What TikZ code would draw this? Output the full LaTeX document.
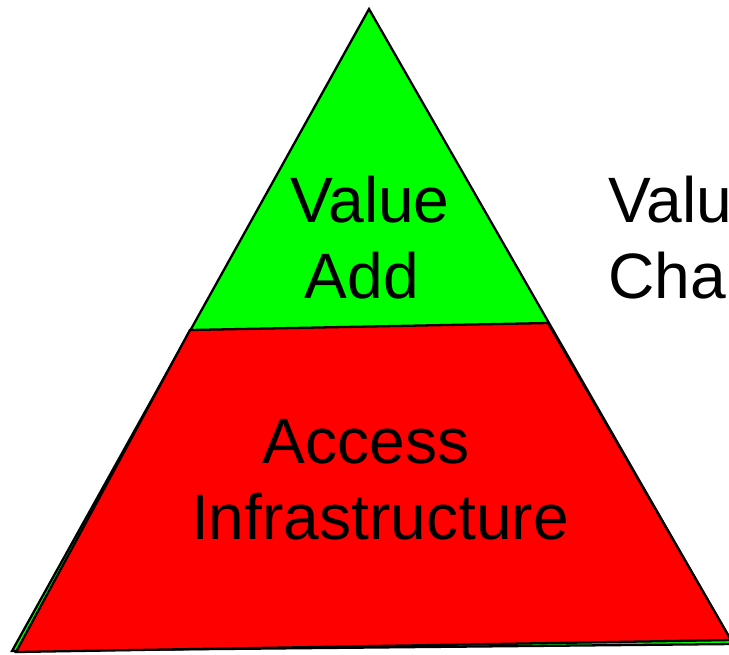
\documentclass[tikz,border=0pt]{standalone}
\usepackage{fontspec}
\setmainfont{Liberation Sans}
\begin{document}
\begin{tikzpicture}[x=0.02cm,y=-0.02cm,
  layershape/.style={draw=black,line width=1.3pt,line join=miter},
  lbl/.style={font=\fontsize{36.5pt}{43.5pt}\selectfont,inner sep=0pt,anchor=base}]
\useasboundingbox (0,0) rectangle (729,654);
\begin{scope}
\clip (0,0) rectangle (729,654);
\draw[layershape,fill={rgb,255:red,0;green,255;blue,0}] (369,9) -- (12,651) -- (733,644) -- cycle;
\draw[layershape,fill={rgb,255:red,255;green,0;blue,0}] (190,330) -- (548,323) -- (731,640) -- (16,652) -- cycle;
\end{scope}
\node[lbl] (v1) at (370,222) {Value};
\node[lbl] (v2) at (362,298) {Add};
\node[lbl] (a1) at (366,463) {Access};
\node[lbl] (a2) at (380,539) {Infrastructure};
\node[lbl,anchor=base west] (c1) at (608,222) {Valu};
\node[lbl,anchor=base west] (c2) at (608,298) {Cha};
\end{tikzpicture}
\end{document}
